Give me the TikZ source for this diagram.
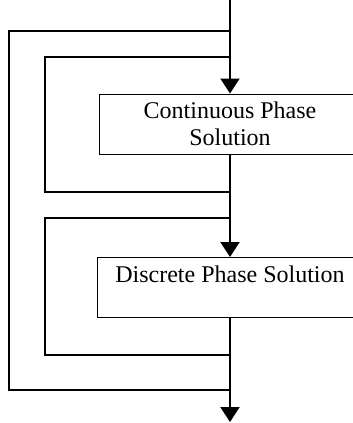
\documentclass[tikz,border=0pt]{standalone}
\usepackage{fontspec}
\setmainfont{Liberation Serif}
\usetikzlibrary{arrows.meta}

\begin{document}
\begin{tikzpicture}[x=0.5pt,y=-0.5pt,
	wire/.style={line width=1pt},
	flow/.style={line width=1pt,-{Triangle[width=9.5pt,length=7.5pt]}},
	stage/.style={draw,line width=0.5pt,minimum height=30pt,inner sep=0pt,align=center,font=\fontsize{12pt}{13.5pt}\selectfont}]
	\clip (0,0) rectangle (353,423);
	\node[stage,minimum width=131pt] (cont) at (230,124) {Continuous Phase\\Solution};
	\node[stage,minimum width=133pt] (disc) at (230,287.5) {Discrete Phase Solution\\~};
	\coordinate (in) at (230,0);
	\coordinate (out) at (230,422);
	% loop taps on the main line
	\coordinate (outertop) at (230,31);
	\coordinate (outerbot) at (230,390);
	\coordinate (conttop) at (230,57);
	\coordinate (contbot) at (230,192);
	\coordinate (disctop) at (230,218);
	\coordinate (discbot) at (230,355);
	\draw[flow] (in) -- (cont);
	\draw[flow] (cont) -- (disc);
	\draw[flow] (disc) -- (out);
	\draw[wire] (outertop) -- ++(-221,0) |- (outerbot);
	\draw[wire] (conttop) -- ++(-185,0) |- (contbot);
	\draw[wire] (disctop) -- ++(-185,0) |- (discbot);
\end{tikzpicture}
\end{document}
